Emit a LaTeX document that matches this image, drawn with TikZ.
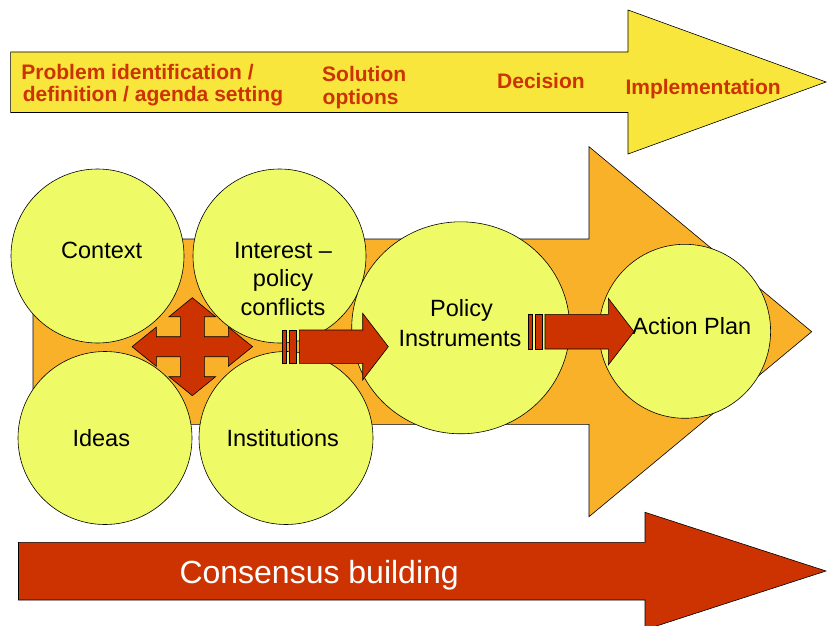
\documentclass[tikz,border=0pt]{standalone}
\usepackage{fontspec}
\setmainfont{Liberation Sans}
\usetikzlibrary{shapes.geometric}
\definecolor{topyel}{HTML}{F9E63C}
\definecolor{circyel}{HTML}{EEFA66}
\definecolor{orng}{HTML}{FAB12A}
\definecolor{redd}{HTML}{CC3300}
\begin{document}
\begin{tikzpicture}[x=1pt,y=-1pt,
  outl/.style={draw=black, line width=0.6pt, line join=miter},
  bubble/.style={outl, fill=circyel, ellipse, inner sep=0pt},
  phase/.style={font=\bfseries\fontsize{21}{22}\selectfont, text=redd, inner sep=0pt, anchor=base west},
  bubtext/.style={font=\fontsize{23.5}{28}\selectfont, text=black, inner sep=0pt, anchor=base},
  redarrow/.style={outl, fill=redd}]
\useasboundingbox (0,0) rectangle (828,626);
\clip (0,0) rectangle (828,626);
\fill[white] (0,0) rectangle (828,626);

% top phase arrow
\draw[outl, fill=topyel] (10.6,52) -- (628,52) -- (628,10) -- (826,82) -- (628,154) -- (628,112.5) -- (10.6,112.5) -- cycle;
% big orange arrow
\draw[outl, fill=orng] (33,239) -- (589,239) -- (589,146.7) -- (811.7,331.7) -- (589,516.7) -- (589,424.3) -- (33,424.3) -- cycle;
% consensus arrow
\draw[redarrow] (18.5,542.3) -- (645,542.3) -- (645,512.3) -- (826,571) -- (645,629.7) -- (645,600) -- (18.5,600) -- cycle;

% circles
\node[bubble, minimum width=173pt, minimum height=174pt] (context) at (97.5,256) {};
\node[bubble, minimum width=173pt, minimum height=174pt] (interest) at (279.5,256) {};
\node[bubble, minimum width=174pt, minimum height=173pt] (ideas) at (105,438) {};
\node[bubble, minimum width=174pt, minimum height=173pt] (institutions) at (286,438) {};
\node[bubble, minimum width=218pt, minimum height=212pt] (policy) at (460.7,327.8) {};
\node[bubble, minimum width=171.6pt, minimum height=174pt] (action) at (684.8,331.3) {};

% four-way arrow
\begin{scope}[shift={(192.3,346.7)}]
\draw[redarrow] (-60.3,0) -- (-36,19.6) -- (-36,10) -- (-12,10) -- (-12,30) -- (-23.3,30) -- (0,49)
  -- (23.3,30) -- (12,30) -- (12,10) -- (36,10) -- (36,19.6) -- (60.3,0)
  -- (36,-19.6) -- (36,-10) -- (12,-10) -- (12,-30) -- (23.3,-30) -- (0,-49)
  -- (-23.3,-30) -- (-12,-30) -- (-12,-10) -- (-36,-10) -- (-36,-19.6) -- cycle;
\end{scope}

% striped arrow 1
\draw[redarrow] (282.7,330) rectangle (286,363.3);
\draw[redarrow] (289.3,330) rectangle (296.7,363.3);
\draw[redarrow] (299.3,330) -- (362.7,330) -- (362.7,313.3) -- (388.3,346.7) -- (362.7,380) -- (362.7,363.3) -- (299.3,363.3) -- cycle;

% striped arrow 2
\draw[redarrow] (528.3,314.3) rectangle (532.3,349);
\draw[redarrow] (535,314.3) rectangle (542.3,349);
\draw[redarrow] (545,314.3) -- (608.3,314.3) -- (608.3,298.3) -- (634,331.7) -- (608.3,365) -- (608.3,349) -- (545,349) -- cycle;

% phase labels
\node[phase] (p1a) at (21.2,80) {Problem identification /};
\node[phase] (p1b) at (22.7,101.7) {definition / agenda setting};
\node[phase] (p2a) at (322,81.7) {Solution};
\node[phase] (p2b) at (322.5,104.5) {options};
\node[phase] (p3) at (497,88.3) {Decision};
\node[phase] (p4) at (625.3,95) {Implementation};

% bubble texts
\node[bubtext] (tcontext) at (101.7,258) {Context};
\node[bubtext] (tint1) at (283,258) {Interest –};
\node[bubtext] (tint2) at (283,286.5) {policy};
\node[bubtext] (tint3) at (283,315) {conflicts};
\node[bubtext] (tideas) at (101.3,446.7) {Ideas};
\node[bubtext] (tinst) at (282.7,446.7) {Institutions};
\node[bubtext] (tpol1) at (461.5,316.7) {Policy};
\node[bubtext] (tpol2) at (460,346.7) {Instruments};
\node[bubtext] (tact) at (691.8,334) {Action Plan};

% consensus label
\node[font=\fontsize{32}{36}\selectfont, text=white, inner sep=0pt, anchor=base west] (tcons) at (179.3,583.3) {Consensus building};
\end{tikzpicture}
\end{document}
